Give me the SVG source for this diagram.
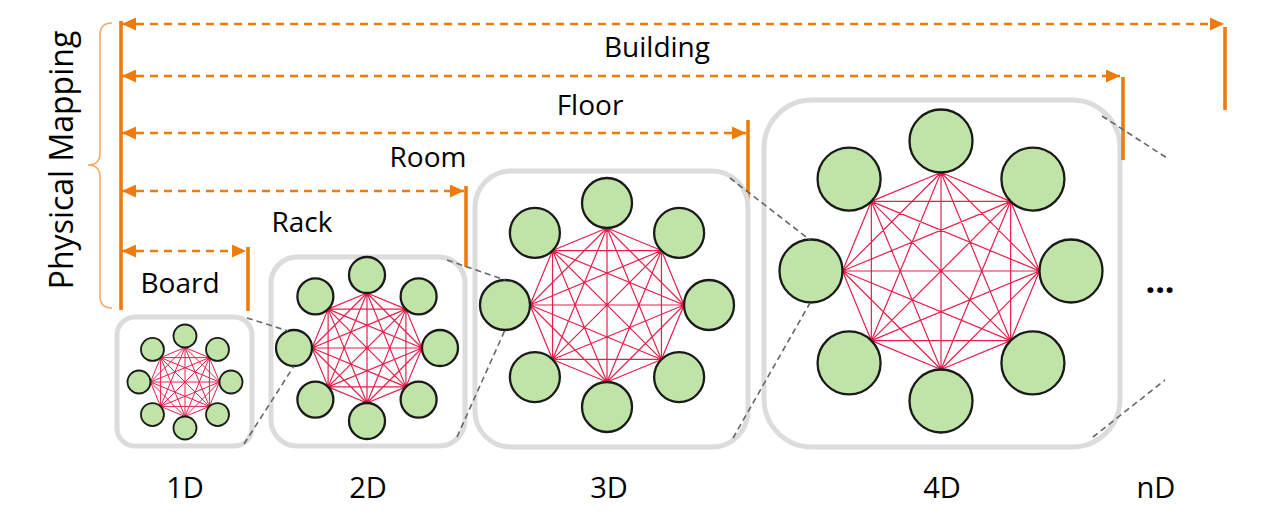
<svg xmlns="http://www.w3.org/2000/svg" width="1267" height="523" viewBox="0 0 1267 523">
<style>
.lbl{font-family:"Open Sans","Liberation Sans",sans-serif;font-size:28px;fill:#000;text-anchor:middle}
.dlbl{font-family:"Open Sans","Liberation Sans",sans-serif;font-size:29px;fill:#000;text-anchor:middle}
.box{fill:#fff;stroke:#DCDCDC;stroke-width:5}
.nd{fill:#C0E4A8;stroke:#1A1A1A;stroke-width:2.3}
.nd1{fill:#C0E4A8;stroke:#1A1A1A;stroke-width:1.8}
.mesh{fill:none;stroke:#E81E4B;stroke-width:1.2;stroke-linejoin:round}
.mesh1{fill:none;stroke:#E81E4B;stroke-width:1;stroke-linejoin:round}
.arr{fill:none;stroke:#F07A0A;stroke-width:2.3;stroke-dasharray:8 6}
.bar{stroke:#F07A0A;stroke-width:3.6}
.zoom{stroke:#666;stroke-width:1.6;stroke-dasharray:6 4;fill:none}
</style>
<defs>
<marker id="ah" markerUnits="userSpaceOnUse" markerWidth="14" markerHeight="13" refX="14" refY="6.5" orient="auto-start-reverse" viewBox="0 0 14 13"><path d="M0,0 L14,6.5 L0,13 Z" fill="#F07A0A"/></marker>
</defs>

<g id="mapping">
<path d="M112,23 Q100,23 100,35 L100,153 Q100,165 88,165 Q100,165 100,177 L100,296 Q100,308 112,308" fill="none" stroke="#F5A863" stroke-width="1.5"/>
<text transform="translate(73,160) rotate(-90)" text-anchor="middle" font-family="'Open Sans','Liberation Sans',sans-serif" font-size="32" fill="#000">Physical Mapping</text>
<line class="bar" x1="121" y1="21" x2="121" y2="310"/>
</g>

<g id="building">
<line class="arr" x1="122" y1="24" x2="1224" y2="24" marker-start="url(#ah)" marker-end="url(#ah)"/>
<line class="bar" x1="1225" y1="27" x2="1225" y2="110"/>
<text class="lbl" x="657" y="57">Building</text>
</g>
<g id="floor">
<line class="arr" x1="122" y1="76" x2="1120" y2="76" marker-start="url(#ah)" marker-end="url(#ah)"/>
<text class="lbl" x="590" y="115">Floor</text>
</g>
<g id="room">
<line class="arr" x1="122" y1="133" x2="746" y2="133" marker-start="url(#ah)" marker-end="url(#ah)"/>
<line class="bar" x1="748" y1="120" x2="748" y2="200"/>
<text class="lbl" x="428" y="167">Room</text>
</g>
<g id="rack">
<line class="arr" x1="122" y1="191" x2="464" y2="191" marker-start="url(#ah)" marker-end="url(#ah)"/>
<line class="bar" x1="466" y1="186" x2="466" y2="267"/>
<text class="lbl" x="302" y="232">Rack</text>
</g>
<g id="board">
<line class="arr" x1="122" y1="251" x2="246" y2="251" marker-start="url(#ah)" marker-end="url(#ah)"/>
<line class="bar" x1="248" y1="247" x2="248" y2="311"/>
<text class="lbl" x="180" y="293">Board</text>
</g>

<g id="d1">
<rect class="box" x="117" y="317" width="135" height="129" rx="18"/>
<path class="mesh1" d="M185,347.5 L209.4,357.6 L219.5,382 L209.4,406.4 L185,416.5 L160.6,406.4 L150.5,382 L160.6,357.6 Z M185,347.5 L219.5,382 L185,416.5 L150.5,382 Z M209.4,357.6 L209.4,406.4 L160.6,406.4 L160.6,357.6 Z M185,347.5 L209.4,406.4 L150.5,382 L209.4,357.6 L185,416.5 L160.6,357.6 L219.5,382 L160.6,406.4 Z M185,347.5 L185,416.5 M209.4,357.6 L160.6,406.4 M219.5,382 L150.5,382 M209.4,406.4 L160.6,357.6"/>
<g class="nd1">
<circle cx="185" cy="336" r="11.5"/>
<circle cx="217.53" cy="349.47" r="11.5"/>
<circle cx="231" cy="382" r="11.5"/>
<circle cx="217.53" cy="414.53" r="11.5"/>
<circle cx="185" cy="428" r="11.5"/>
<circle cx="152.47" cy="414.53" r="11.5"/>
<circle cx="139" cy="382" r="11.5"/>
<circle cx="152.47" cy="349.47" r="11.5"/>
</g>
<text class="dlbl" x="185" y="498">1D</text>
</g>

<g id="d2">
<rect class="box" x="271" y="257" width="194" height="189" rx="26"/>
<path class="mesh" d="M367,293 L405.89,309.11 L422,348 L405.89,386.89 L367,403 L328.11,386.89 L312,348 L328.11,309.11 Z M367,293 L422,348 L367,403 L312,348 Z M405.89,309.11 L405.89,386.89 L328.11,386.89 L328.11,309.11 Z M367,293 L405.89,386.89 L312,348 L405.89,309.11 L367,403 L328.11,309.11 L422,348 L328.11,386.89 Z M367,293 L367,403 M405.89,309.11 L328.11,386.89 M422,348 L312,348 M405.89,386.89 L328.11,309.11"/>
<g class="nd">
<circle cx="367" cy="275" r="18"/>
<circle cx="418.62" cy="296.38" r="18"/>
<circle cx="440" cy="348" r="18"/>
<circle cx="418.62" cy="399.62" r="18"/>
<circle cx="367" cy="421" r="18"/>
<circle cx="315.38" cy="399.62" r="18"/>
<circle cx="294" cy="348" r="18"/>
<circle cx="315.38" cy="296.38" r="18"/>
</g>
<text class="dlbl" x="368" y="498">2D</text>
</g>

<g id="d3">
<rect class="box" x="475" y="171" width="273" height="276" rx="36"/>
<path class="mesh" d="M607,228 L661.45,250.55 L684,305 L661.45,359.45 L607,382 L552.55,359.45 L530,305 L552.55,250.55 Z M607,228 L684,305 L607,382 L530,305 Z M661.45,250.55 L661.45,359.45 L552.55,359.45 L552.55,250.55 Z M607,228 L661.45,359.45 L530,305 L661.45,250.55 L607,382 L552.55,250.55 L684,305 L552.55,359.45 Z M607,228 L607,382 M661.45,250.55 L552.55,359.45 M684,305 L530,305 M661.45,359.45 L552.55,250.55"/>
<g class="nd">
<circle cx="607" cy="203" r="25"/>
<circle cx="679.12" cy="232.88" r="25"/>
<circle cx="709" cy="305" r="25"/>
<circle cx="679.12" cy="377.12" r="25"/>
<circle cx="607" cy="407" r="25"/>
<circle cx="534.88" cy="377.12" r="25"/>
<circle cx="505" cy="305" r="25"/>
<circle cx="534.88" cy="232.88" r="25"/>
</g>
<text class="dlbl" x="609" y="498">3D</text>
</g>

<g id="d4">
<rect class="box" x="764" y="100" width="356" height="347" rx="48"/>
<path class="mesh" d="M941,172.5 L1010.65,201.35 L1039.5,271 L1010.65,340.65 L941,369.5 L871.35,340.65 L842.5,271 L871.35,201.35 Z M941,172.5 L1039.5,271 L941,369.5 L842.5,271 Z M1010.65,201.35 L1010.65,340.65 L871.35,340.65 L871.35,201.35 Z M941,172.5 L1010.65,340.65 L842.5,271 L1010.65,201.35 L941,369.5 L871.35,201.35 L1039.5,271 L871.35,340.65 Z M941,172.5 L941,369.5 M1010.65,201.35 L871.35,340.65 M1039.5,271 L842.5,271 M1010.65,340.65 L871.35,201.35"/>
<g class="nd">
<circle cx="941" cy="141" r="31.5"/>
<circle cx="1032.92" cy="179.08" r="31.5"/>
<circle cx="1071" cy="271" r="31.5"/>
<circle cx="1032.92" cy="362.92" r="31.5"/>
<circle cx="941" cy="401" r="31.5"/>
<circle cx="849.08" cy="362.92" r="31.5"/>
<circle cx="811" cy="271" r="31.5"/>
<circle cx="849.08" cy="179.08" r="31.5"/>
</g>
<text class="dlbl" x="942" y="498">4D</text>
</g>
<line class="bar" x1="1123" y1="77" x2="1123" y2="160"/>

<g id="dn">
<text x="1160" y="293" text-anchor="middle" font-family="'Open Sans','Liberation Sans',sans-serif" font-size="34" font-weight="bold" fill="#000">...</text>
<text class="dlbl" x="1156" y="498">nD</text>
</g>

<g id="connectors">
<line class="zoom" x1="247" y1="318" x2="288" y2="331"/>
<line class="zoom" x1="244" y1="444" x2="294" y2="366"/>
<line class="zoom" x1="447" y1="260" x2="505" y2="280"/>
<line class="zoom" x1="457" y1="437" x2="505" y2="330"/>
<line class="zoom" x1="730" y1="178" x2="810" y2="240"/>
<line class="zoom" x1="733" y1="438" x2="810" y2="303"/>
<line class="zoom" x1="1102" y1="116" x2="1167" y2="158"/>
<line class="zoom" x1="1093" y1="437" x2="1165" y2="380"/>
</g>
</svg>
